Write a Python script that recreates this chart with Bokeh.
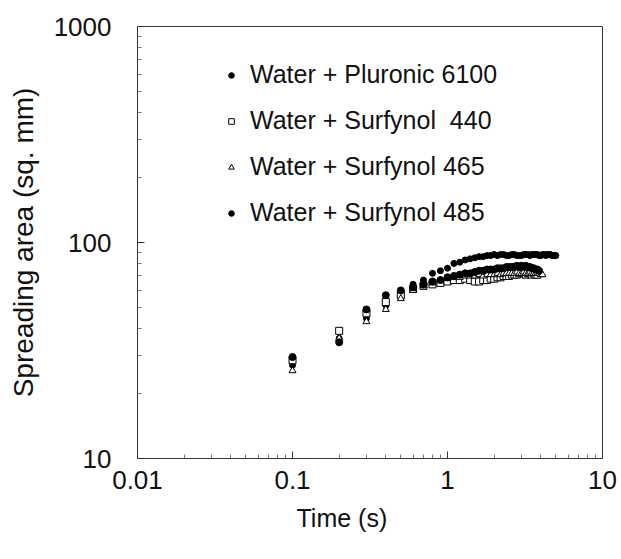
from bokeh.plotting import figure
from bokeh.models import FixedTicker, CustomJSTickFormatter, Legend, LegendItem, Title
from bokeh.embed import file_html
from bokeh.resources import INLINE

# ---- data ----
T = [0.1, 0.2, 0.3, 0.4, 0.5, 0.6, 0.7, 0.8, 0.9, 1.0,
     1.1, 1.2, 1.3, 1.4, 1.5, 1.6, 1.7, 1.8, 1.9, 2.0,
     2.1, 2.2, 2.3, 2.4, 2.5, 2.6, 2.7, 2.8, 2.9, 3.0,
     3.1, 3.2, 3.3, 3.4, 3.5, 3.6, 3.7, 3.8, 3.9, 4.0,
     4.1, 4.2, 4.3, 4.4, 4.5, 4.6, 4.7, 4.8, 4.9, 5.0]

pluronic_6100 = [27, 36, 44.5, 51, 59, 64, 67, 72, 74, 76,
                 80, 81, 83, 84, 85, 86, 86, 87, 87, 88,
                 87, 88, 88, 87, 87, 88, 88, 87, 87, 87,
                 88, 88, 88, 87, 88, 88, 88, 88, 87, 87,
                 88, 88, 87, 88, 88, 88, 87, 87, 87, 87]

surfynol_440 = [28.5, 39, 47, 53, 57, 61, 63, 64, 65, 66,
                67, 67, 68, 67, 66, 66, 67, 67, 68, 68,
                69, 69, 70, 70, 70, 71, 71, 71, 72, 72,
                72, 71, 72, 72, 71, 72, 71, 71]

surfynol_465 = [25.5, 36, 43, 49, 55, 60, 63, 65, 67, 68,
                69, 69, 70, 70, 70, 71, 70, 71, 71, 71,
                72, 71, 72, 72, 72, 72, 72, 73, 72, 72,
                73, 72, 72, 73, 72, 72, 72, 72, 72, 71, 71]

surfynol_485 = [29.5, 34.5, 49, 57, 60, 62, 64, 66, 67, 69,
                70, 71, 72, 72, 73, 74, 74, 75, 75, 75,
                76, 76, 76, 77, 77, 77, 77, 78, 77, 78,
                77, 78, 77, 77, 76, 76, 75, 75, 74]

labels = ["Water + Pluronic 6100", "Water + Surfynol  440",
          "Water + Surfynol 465", "Water + Surfynol 485"]

x_ticks = [0.01, 0.1, 1, 10]
x_minor = [0.02, 0.03, 0.04, 0.05, 0.06, 0.07, 0.08, 0.09,
           0.2, 0.3, 0.4, 0.5, 0.6, 0.7, 0.8, 0.9,
           2, 3, 4, 5, 6, 7, 8, 9]
y_ticks = [10, 100, 1000]
y_minor = [20, 30, 40, 50, 60, 70, 80, 90,
           200, 300, 400, 500, 600, 700, 800, 900]

FONT = "Liberation Sans"
INK = "#111111"

p = figure(width=621, height=559, x_axis_type="log", y_axis_type="log",
           x_range=(0.01, 10), y_range=(10, 1000),
           output_backend="svg", toolbar_location=None,
           min_border_left=137, min_border_right=19,
           min_border_top=26, min_border_bottom=101)

p.xgrid.visible = False
p.ygrid.visible = False
p.background_fill_color = "white"
p.border_fill_color = "white"
p.outline_line_color = "#333333"
p.outline_line_width = 1

r1 = p.scatter(T[:len(pluronic_6100)], pluronic_6100, marker="circle", size=6,
               fill_color="black", line_color="black")
r2 = p.scatter(T[:len(surfynol_440)], surfynol_440, marker="square", size=7,
               fill_color="white", line_color="black", line_width=1)
r3 = p.scatter(T[:len(surfynol_465)], surfynol_465, marker="triangle", size=7,
               fill_color="white", line_color="black", line_width=1)
r4 = p.scatter(T[:len(surfynol_485)], surfynol_485, marker="circle", size=7,
               fill_color="black", line_color="black")

fmt = CustomJSTickFormatter(code="return String(tick);")

for ax, ticks, minor in ((p.xaxis[0], x_ticks, x_minor), (p.yaxis[0], y_ticks, y_minor)):
    ax.ticker = FixedTicker(ticks=ticks, minor_ticks=minor)
    ax.formatter = fmt
    ax.major_tick_in = 7
    ax.major_tick_out = 0
    ax.minor_tick_in = 4
    ax.minor_tick_out = 0
    ax.axis_line_color = "#333333"
    ax.major_tick_line_color = "#333333"
    ax.minor_tick_line_color = "#777777"
    ax.major_label_text_font = FONT
    ax.major_label_text_font_size = "26px"
    ax.major_label_text_color = INK
    ax.axis_label_text_font = FONT
    ax.axis_label_text_font_style = "normal"
    ax.axis_label_text_color = INK

p.yaxis.axis_label = "Spreading area (sq. mm)"
p.yaxis.axis_label_text_font_size = "28px"
p.xaxis.major_label_standoff = 12
p.yaxis.major_label_standoff = 26
p.yaxis.axis_label_standoff = 12

xtitle = Title(text="Time (s)", align="left", offset=159,
               text_font=FONT, text_font_size="25px", text_font_style="normal",
               text_color=INK, standoff=20)
p.add_layout(xtitle, "below")

legend = Legend(items=[LegendItem(label=labels[0], renderers=[r1]),
                       LegendItem(label=labels[1], renderers=[r2]),
                       LegendItem(label=labels[2], renderers=[r3]),
                       LegendItem(label=labels[3], renderers=[r4])],
                location=(87, 231))
legend.label_text_font = FONT
legend.label_text_font_size = "25px"
legend.label_text_color = INK
legend.label_height = 24
legend.glyph_height = 24
legend.glyph_width = 14
legend.spacing = 17
legend.padding = 0
legend.margin = 0
legend.label_standoff = 12
legend.border_line_color = None
legend.background_fill_alpha = 0
p.add_layout(legend, "center")

open("out.html", "w").write(file_html(p, INLINE))
